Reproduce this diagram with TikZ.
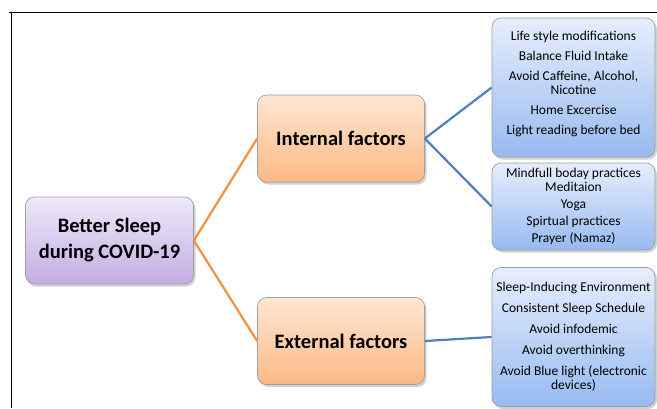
\documentclass[tikz,border=0pt]{standalone}
\usepackage{fontspec}
\setmainfont{Carlito}
\usetikzlibrary{shadows}

\definecolor{lilactop}{HTML}{EEE9F8}
\definecolor{lilacbot}{HTML}{C3ADE3}
\definecolor{peachtop}{HTML}{FFE6D2}
\definecolor{peachbot}{HTML}{FBB985}
\definecolor{skytop}{HTML}{E6EEFD}
\definecolor{skybot}{HTML}{97BAF0}
\definecolor{orangeline}{HTML}{F3903F}
\definecolor{blueline}{HTML}{4F7FC0}

\tikzset{
  box/.style={rectangle, rounded corners=9pt, draw=gray!75, line width=0.7pt,
    drop shadow={shadow xshift=2pt, shadow yshift=-2.5pt, fill=gray!60, opacity=0.6},
    align=center, inner sep=2pt},
  rootbox/.style={box, top color=lilactop, bottom color=lilacbot,
    minimum width=168pt, minimum height=87pt,
    font=\fontsize{20.5}{26}\selectfont\bfseries},
  factorbox/.style={box, top color=peachtop, bottom color=peachbot,
    minimum width=167pt, minimum height=87pt,
    font=\fontsize{20.5}{26}\selectfont\bfseries},
  tipbox/.style={box, top color=skytop, bottom color=skybot,
    minimum width=163pt, font=\fontsize{13.5}{14}\selectfont},
  orangelink/.style={draw=orangeline, line width=2.2pt},
  bluelink/.style={draw=blueline, line width=2.2pt}
}

\begin{document}
\begin{tikzpicture}[x=1pt,y=-1pt]
  \useasboundingbox (0,0) rectangle (657,408);
  % frame
  \draw[line width=1pt] (9,12) -- (657,12);
  \draw[line width=1pt] (11,12) -- (11,408);

  \draw
    (109.5,240.5) node[rootbox] (sleep){Better Sleep\\during COVID-19}
    (341,138.5) node[factorbox] (internal){Internal factors}
    (341,341) node[factorbox] (external){External factors}
    (573.5,87.5) node[tipbox, minimum height=139pt] (habits){Life style modifications\\[6pt]
      Balance Fluid Intake\\[6pt] Avoid Caffeine, Alcohol,\\ Nicotine\\[6pt]
      Home Excercise\\[6pt] Light reading before bed\\[-4pt]\mbox{}}
    (573.5,206.5) node[tipbox, minimum height=87pt] (mind){Mindfull boday practices\\
      Meditaion\\[3pt] Yoga\\[3pt] Spirtual practices\\[3pt] Prayer (Namaz)}
    (573.5,337) node[tipbox, minimum height=139pt] (environ){Sleep-Inducing Environment\\[7pt]
      Consistent Sleep Schedule\\[7pt] Avoid infodemic\\[7pt]
      Avoid overthinking\\[7pt] Avoid Blue light (electronic\\ devices)};

  \begin{scope}[orangelink]
    \draw (sleep.east) to (internal.west);
    \draw (sleep.east) to (external.west);
  \end{scope}
  \begin{scope}[bluelink]
    \draw (internal.east) to (habits.west);
    \draw (internal.east) to (mind.west);
    \draw (external.east) to (environ.west);
  \end{scope}
\end{tikzpicture}
\end{document}
